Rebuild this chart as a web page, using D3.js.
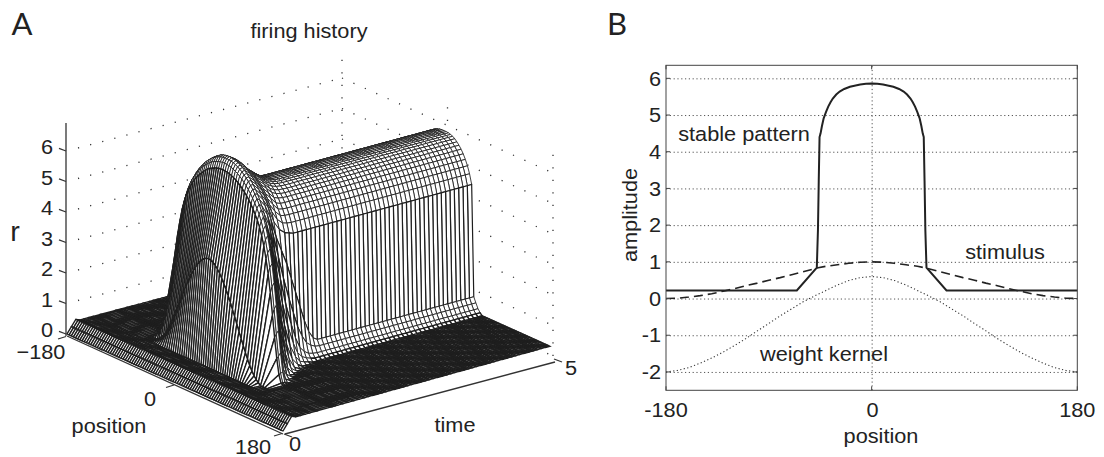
<!DOCTYPE html>
<html>
<head>
<meta charset="utf-8">
<title>firing history and stable pattern</title>
<script src="https://cdn.jsdelivr.net/npm/d3@7"></script>
<style>
  html, body { margin: 0; padding: 0; background: #fff; }
  svg { display: block; }
  text { font-family: "Liberation Sans", Arial, sans-serif; fill: #222; }
</style>
</head>
<body>
<div id="chart"></div>
<script>
// panel A: r(position, time), half profiles read outward from position 0 in 3.6 deg steps,
// each row stops where it reaches the floor
const step = 3.6;
const rTicks = [0, 1, 2, 3, 4, 5, 6];
const posTicks = [-180, 0, 180];
const timeTicks = [0, 5];
const floorA = 0.35;
const stableA = [5.86,5.86,5.85,5.83,5.8,5.75,5.68,5.6,5.5,5.38,5.23,5.05,4.82,4.5,0.85,0.68,0.52,0.42];
// flat rows before the stimulus
const earlyTimes = [0, 0.08, 0.16, 0.24, 0.32, 0.40, 0.48];
const earlyLevels = [0, 0.2, 0.4, 0.35, 0.35, 0.35, 0.35];
// rows for the transient: one low bell, then a wide rim that overshoots and narrows
const transientTimes = [0.62, 0.88, 0.91, 0.95, 1.0, 1.1, 1.2, 1.3, 1.4, 1.5, 1.58, 1.66, 1.74, 1.82, 1.9, 1.98];
const transient = [
  [3.75,3.74,3.7,3.63,3.54,3.43,3.3,3.15,3.0,2.82,2.63,2.43,2.23,2.02,1.81,1.61,1.41,1.21,1.02,0.85,0.7,0.58,0.49,0.42],
  [6.55,6.54,6.53,6.51,6.48,6.44,6.4,6.35,6.28,6.21,6.13,6.04,5.94,5.83,5.7,5.55,5.4,5.2,4.95,4.65,4.25,3.8,3.2,2.5,1.8,1.15,0.65,0.4],
  [6.75,6.74,6.73,6.71,6.68,6.64,6.6,6.54,6.48,6.4,6.32,6.23,6.13,6.01,5.88,5.74,5.58,5.38,5.13,4.83,4.43,3.98,3.38,2.68,1.9,1.2,0.68,0.4],
  [6.88,6.87,6.86,6.84,6.81,6.77,6.72,6.67,6.6,6.53,6.45,6.35,6.25,6.13,6.0,5.85,5.7,5.5,5.25,4.95,4.55,4.1,3.5,2.8,2.0,1.3,0.7,0.4],
  [6.92,6.91,6.9,6.88,6.85,6.8,6.75,6.69,6.62,6.54,6.45,6.35,6.23,6.1,5.95,5.78,5.58,5.3,4.95,4.5,3.95,3.3,2.6,1.9,1.25,0.75,0.45],
  [6.8,6.79,6.78,6.75,6.72,6.67,6.61,6.54,6.46,6.37,6.27,6.15,6.02,5.88,5.7,5.45,5.1,4.6,4.0,3.3,2.6,1.9,1.3,0.85,0.5,0.37],
  [6.6,6.59,6.58,6.55,6.51,6.46,6.4,6.33,6.24,6.14,6.03,5.9,5.75,5.55,5.25,4.8,4.2,3.5,2.8,2.1,1.5,1.0,0.6,0.4],
  [6.4,6.39,6.37,6.34,6.3,6.24,6.17,6.08,5.98,5.86,5.72,5.55,5.35,5.05,4.6,4.0,3.3,2.5,1.8,1.2,0.8,0.5,0.37],
  [6.25,6.24,6.22,6.19,6.15,6.09,6.01,5.91,5.79,5.65,5.48,5.28,5.05,4.75,4.1,3.2,2.4,1.7,1.1,0.7,0.45,0.36],
  [6.1,6.09,6.07,6.04,5.99,5.92,5.83,5.72,5.59,5.44,5.27,5.09,4.88,4.6,3.6,2.5,1.7,1.1,0.7,0.47,0.36],
  [6.0,5.99,5.97,5.94,5.89,5.83,5.74,5.65,5.53,5.39,5.24,5.06,4.84,4.55,3.1,2.0,1.2,0.75,0.5,0.37],
  [5.93,5.92,5.91,5.88,5.84,5.78,5.7,5.61,5.51,5.38,5.23,5.05,4.82,4.5,2.6,1.5,0.85,0.58,0.44,0.36],
  [5.88,5.87,5.86,5.84,5.81,5.76,5.69,5.6,5.5,5.38,5.23,5.05,4.82,4.5,2.1,1.15,0.68,0.5,0.4],
  [5.86,5.86,5.85,5.83,5.8,5.75,5.68,5.6,5.5,5.38,5.23,5.05,4.82,4.5,1.6,0.9,0.58,0.45],
  [5.86,5.86,5.85,5.83,5.8,5.75,5.68,5.6,5.5,5.38,5.23,5.05,4.82,4.5,1.2,0.78,0.54,0.42],
  [5.86,5.86,5.85,5.83,5.8,5.75,5.68,5.6,5.5,5.38,5.23,5.05,4.82,4.5,0.95,0.7,0.52,0.42]
];

// panel B
const stableX = [0,5,10,15,19,24,28,31,34,36,38,40,42,43.5,44.7,45.6,46.3,47,48,65.5,180];
const stableY = [5.86,5.85,5.83,5.8,5.77,5.71,5.64,5.56,5.45,5.35,5.23,5.08,4.91,4.7,4.5,4.4,3.2,1.87,0.84,0.22,0.22];
const stimulusX = [0,10,20,30,40,48,60,70,80,90,100,110,120,130,140,150,160,170,180];
const stimulusY = [1,0.99,0.96,0.92,0.88,0.83,0.73,0.65,0.57,0.5,0.42,0.35,0.27,0.2,0.13,0.08,0.04,0.01,0];
const kernelX = [0,10,20,30,40,50,60,70,80,90,100,110,120,130,140,150,160,170,180];
const kernelY = [0.6,0.57,0.49,0.37,0.22,0.07,-0.09,-0.28,-0.47,-0.68,-0.88,-1.09,-1.28,-1.46,-1.62,-1.76,-1.88,-1.96,-2];
const ampTicks = [-2,-1,0,1,2,3,4,5,6];

const W = 1104, H = 457;
const INK = "#222";
const svg = d3.select("#chart").append("svg").attr("width", W).attr("height", H).attr("viewBox", `0 0 ${W} ${H}`);

// the source text is a little wider than it is tall, so text gets a small x stretch
function label(x, y, str, opts = {}) {
  const t = svg.append("text")
    .attr("transform", `translate(${x},${y}) ${opts.rotate ? `rotate(${opts.rotate})` : ""} scale(${opts.sx || 1.06},1)`)
    .attr("text-anchor", opts.anchor || "middle")
    .attr("font-size", opts.size || 20.5)
    .text(str);
  if (opts.family) t.style("font-family", opts.family);
  return t;
}

// --- panel A ---
const sPos = d3.scaleLinear().domain([-180, 180]).range([0, 1]);
const sTime = d3.scaleLinear().domain([0, 5]).range([0, 1]);
const rPx = d3.scaleLinear().domain([0, 1]).range([0, 30.5]);
const C00 = [67, 334], C10 = [283, 431], C01 = [342, 261], C11 = [553, 356];

function proj(pos, time, r) {
  const s = sPos(pos), u = sTime(time);
  const x = (1-s)*(1-u)*C00[0] + s*(1-u)*C10[0] + (1-s)*u*C01[0] + s*u*C11[0];
  const y = (1-s)*(1-u)*C00[1] + s*(1-u)*C10[1] + (1-s)*u*C01[1] + s*u*C11[1];
  return [x, y - rPx(r)];
}

// build the grid from the rows above
const halfPos = d3.range(0, 180 + 1e-6, step);
const fullPos = [...halfPos.slice(1).reverse().map(d => -d), ...halfPos];
function fullRow(half, floor) {
  const h = halfPos.map((_, i) => i < half.length ? half[i] : floor);
  return [...h.slice(1).reverse(), ...h];
}
const lateTimes = d3.range(2.06, 5 + 1e-6, 0.08);
const times = [...earlyTimes, ...transientTimes, ...lateTimes];
const rows = [
  ...earlyLevels.map(v => fullRow([], v)),
  ...transient.map(h => fullRow(h, floorA)),
  ...lateTimes.map(() => fullRow(stableA, floorA))
];

// back walls
const gridA = svg.append("g").attr("fill", "none").attr("stroke", "#333")
  .attr("stroke-width", 1.3).attr("stroke-dasharray", "1.2,11.3");
const seg = (a, b) => d3.line()([a, b]);
rTicks.forEach(r => {
  gridA.append("path").attr("d", seg(proj(-180, 0, r).map((d, i) => i ? d - 3 : d + 11), proj(-180, 5, r)));
  gridA.append("path").attr("d", seg(proj(-180, 5, r), proj(180, 5, r)));
});
[[-180, 5], [0, 5], [180, 5]].forEach(([p, t]) => {
  gridA.append("path").attr("d", seg(proj(p, t, 0), proj(p, t, 6.62)));
});

// mesh, painted far to near; the weight of a cell goes by what it shows
const quads = [];
for (let j = times.length - 2; j >= 0; j--) {
  for (let i = 0; i < fullPos.length - 1; i++) {
    const vals = [rows[j][i], rows[j][i + 1], rows[j + 1][i + 1], rows[j + 1][i]];
    const hi = d3.max(vals), lo = d3.min(vals);
    quads.push({
      pts: [
        proj(fullPos[i], times[j], vals[0]),
        proj(fullPos[i + 1], times[j], vals[1]),
        proj(fullPos[i + 1], times[j + 1], vals[2]),
        proj(fullPos[i], times[j + 1], vals[3])
      ],
      weight: times[j] < 0.16 ? 1.35 : hi < 0.5 ? 1.4 : times[j] < 0.8 ? 1.35 : hi - lo > 1 ? 1.2 : 0.85
    });
  }
}
svg.append("g").attr("fill", "#fff").attr("stroke", "#1e1e1e")
  .selectAll("path").data(quads).join("path")
  .attr("stroke-width", d => d.weight)
  .attr("d", d => d3.line()(d.pts) + "Z");

// box axes
const axisA = svg.append("g").attr("fill", "none").attr("stroke", "#333").attr("stroke-width", 1.3);
axisA.append("path").attr("d", seg([66, 336], [66, 123]));
axisA.append("path").attr("d", seg([67, 336], [283, 434]));
axisA.append("path").attr("d", seg([285, 434], [555, 362]));
rTicks.forEach(r => {
  const y = proj(-180, 0, r)[1];
  axisA.append("path").attr("d", seg([66, y], [59, y - 2.6]));
  label(47, y - 4, r).attr("dy", "0.35em");
});
posTicks.forEach(p => {
  const q = proj(p, 0, 0);
  axisA.append("path").attr("d", seg([q[0] - 1, q[1] + 2.5], [q[0] - 9, q[1] + 5]));
});
timeTicks.forEach(t => {
  const q = proj(180, t, 0);
  axisA.append("path").attr("d", seg([q[0] + 1, q[1] + 3], [q[0] + 9, q[1] + 6]));
});
label(41, 359, "\u2212180");
label(150, 406, "0");
label(253, 454, "180");
label(295, 451, "0");
label(571, 375, "5");
label(109, 433, "position");
label(455, 432, "time");
label(15, 241, "r", { size: 27 });
label(309, 38, "firing history");
label(22, 35, "A", { size: 31, sx: 1, family: "Lato" });

// --- panel B ---
const mX = 666, mR = 1077.3, mT = 65.3, mB = 390.3;
const x = d3.scaleLinear().domain([-180, 180]).range([mX, mR]);
const y = d3.scaleLinear().domain([-2.5, 6.355]).range([mB, mT]);
const mirror = (xs, ys) => [
  ...xs.slice(1).reverse().map((d, i) => [-d, ys[xs.length - 1 - i]]),
  ...xs.map((d, i) => [d, ys[i]])
];
const line = d3.line().x(d => x(d[0])).y(d => y(d[1]));

const gB = svg.append("g");
gB.append("g").attr("transform", `translate(${mX},0)`)
  .call(d3.axisLeft(y).tickValues(ampTicks).tickSize(-(mR - mX)).tickFormat(""))
  .call(s => s.select(".domain").remove())
  .selectAll("line").attr("stroke", "#555").attr("stroke-dasharray", "1.2,2.6");
gB.append("g").attr("transform", `translate(0,${mB})`)
  .call(d3.axisBottom(x).tickValues([0]).tickSize(-(mB - mT)).tickFormat(""))
  .call(s => s.select(".domain").remove())
  .selectAll("line").attr("stroke", "#555").attr("stroke-dasharray", "1.2,2.6");

gB.append("path").attr("d", line(mirror(kernelX, kernelY))).attr("fill", "none")
  .attr("stroke", "#333").attr("stroke-width", 1.1).attr("stroke-dasharray", "1.2,2.4");
gB.append("path").attr("d", line(mirror(stimulusX, stimulusY))).attr("fill", "none")
  .attr("stroke", INK).attr("stroke-width", 1.6).attr("stroke-dasharray", "9,5");
gB.append("path").attr("d", line(mirror(stableX, stableY))).attr("fill", "none")
  .attr("stroke", INK).attr("stroke-width", 2);

// box and short inside ticks on all four sides
gB.append("rect").attr("x", mX).attr("y", mT).attr("width", mR - mX).attr("height", mB - mT)
  .attr("fill", "none").attr("stroke", "#444").attr("stroke-width", 1);
ampTicks.forEach(v => {
  gB.append("line").attr("x1", mX).attr("x2", mX + 4).attr("y1", y(v)).attr("y2", y(v)).attr("stroke", "#444");
  gB.append("line").attr("x1", mR).attr("x2", mR - 4).attr("y1", y(v)).attr("y2", y(v)).attr("stroke", "#444");
  label(mX - 5, y(v), v, { anchor: "end" }).attr("dy", "0.35em");
});
posTicks.forEach(v => {
  gB.append("line").attr("x1", x(v)).attr("x2", x(v)).attr("y1", mB).attr("y2", mB - 4).attr("stroke", "#444");
  gB.append("line").attr("x1", x(v)).attr("x2", x(v)).attr("y1", mT).attr("y2", mT + 4).attr("stroke", "#444");
  label(x(v) + (v === 0 ? 1 : 0), 417, v);
});
label(881, 443, "position");
label(637, 215, "amplitude", { rotate: -90 });
label(744, 141, "stable pattern");
label(1005, 259, "stimulus");
label(824, 361, "weight kernel");
label(617, 35, "B", { size: 31, sx: 1, family: "Lato" });
</script>
</body>
</html>
